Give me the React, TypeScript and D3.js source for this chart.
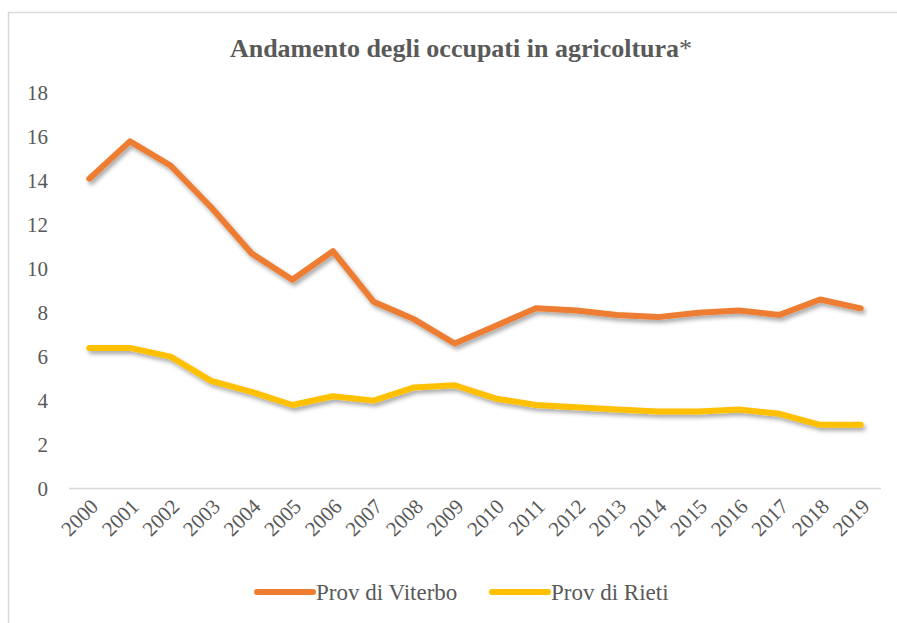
import React from "react";
import * as d3 from "d3";

const years = ["2000","2001","2002","2003","2004","2005","2006","2007","2008","2009","2010","2011","2012","2013","2014","2015","2016","2017","2018","2019"];
const viterbo = [14.1, 15.8, 14.7, 12.8, 10.7, 9.5, 10.8, 8.5, 7.7, 6.6, 7.4, 8.2, 8.1, 7.9, 7.8, 8.0, 8.1, 7.9, 8.6, 8.2];
const rieti = [6.4, 6.4, 6.0, 4.9, 4.4, 3.8, 4.2, 4.0, 4.6, 4.7, 4.1, 3.8, 3.7, 3.6, 3.5, 3.5, 3.6, 3.4, 2.9, 2.9];
const yTicks = [0, 2, 4, 6, 8, 10, 12, 14, 16, 18];

const seriesList = [
  { name: "Prov di Viterbo", values: viterbo, color: "#ED7D31" },
  { name: "Prov di Rieti", values: rieti, color: "#FFC000" },
];

const W = 897;
const H = 623;
const FONT = "'Liberation Serif', 'DejaVu Serif', serif";
const TEXT = "#595959";

export default function App() {
  const x = d3.scaleBand<string>().domain(years).range([69, 881]);
  const y = d3.scaleLinear().domain([0, 18]).range([488.5, 93]);
  const cx = (yr: string) => (x(yr) as number) + x.bandwidth() / 2;

  const line = (vals: number[]) =>
    d3.line<number>()
      .x((_, i) => cx(years[i]))
      .y((v) => y(v))(vals) as string;

  return (
    <svg width={W} height={H} style={{ position: "absolute", left: 0, top: 0, background: "#fff" }}>
      <defs>
        <filter id="lineShadow" x="-10%" y="-20%" width="120%" height="140%">
          <feDropShadow dx="2" dy="3" stdDeviation="2" floodColor="#000" floodOpacity="0.35" />
        </filter>
      </defs>
      <rect x={0} y={0} width={W} height={H} fill="#fff" />
      {/* chart frame */}
      <path d={`M8.5,${H + 5} V12.5 H${W + 5}`} fill="none" stroke="#d9d9d9" strokeWidth={1.5} />

      <text x={461} y={57} textAnchor="middle" fontFamily={FONT} fontSize={26} fill={TEXT}>
        <tspan fontWeight="bold">Andamento degli occupati in agricoltura</tspan>
        <tspan>*</tspan>
      </text>

      {yTicks.map((t) => (
        <text key={t} x={48} y={y(t)} dy="0.35em" textAnchor="end" fontFamily={FONT} fontSize={21} fill={TEXT}>
          {t}
        </text>
      ))}

      <line x1={69} x2={881} y1={y(0)} y2={y(0)} stroke="#d9d9d9" strokeWidth={1.5} />

      {years.map((yr) => (
        <text
          key={yr}
          transform={`translate(${cx(yr) + 5},${y(0) + 14}) rotate(-45)`}
          textAnchor="end"
          dy="0.35em"
          fontFamily={FONT}
          fontSize={21}
          fill={TEXT}
        >
          {yr}
        </text>
      ))}

      {seriesList.map((s) => (
        <path
          key={s.name}
          d={line(s.values)}
          fill="none"
          stroke={s.color}
          strokeWidth={6}
          strokeLinecap="round"
          strokeLinejoin="round"
          filter="url(#lineShadow)"
        />
      ))}

      {seriesList.map((s, i) => {
        const lx = i === 0 ? 257 : 492;
        return (
          <g key={s.name}>
            <line x1={lx} x2={lx + 56} y1={592} y2={592} stroke={s.color} strokeWidth={6} strokeLinecap="round" />
            <text x={lx + 59} y={592} dy="0.35em" fontFamily={FONT} fontSize={23} fill={TEXT}>
              {s.name}
            </text>
          </g>
        );
      })}
    </svg>
  );
}
